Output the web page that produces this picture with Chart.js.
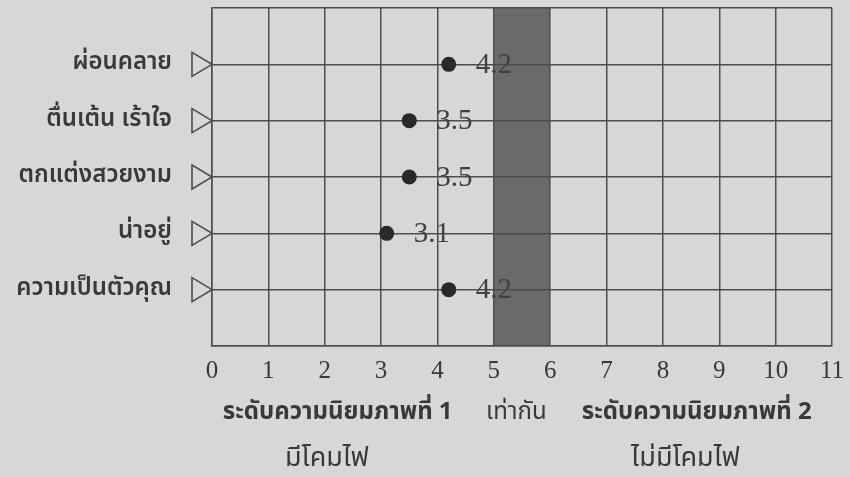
<!DOCTYPE html>
<html>
<head>
<meta charset="utf-8">
<script src="https://cdn.jsdelivr.net/npm/chart.js@4/dist/chart.umd.min.js"></script>
<style>
  html, body { margin: 0; padding: 0; background: #d9d7d6; }
  #wrap { width: 850px; height: 477px; }
</style>
</head>
<body>
<div id="wrap"><canvas id="c" width="850" height="477"></canvas></div>
<script>
// ---- data ----
const categories = ['ผ่อนคลาย', 'ตื่นเต้น เร้าใจ', 'ตกแต่งสวยงาม', 'น่าอยู่', 'ความเป็นตัวคุณ'];
const scores = [4.2, 3.5, 3.5, 3.1, 4.2];
const xTickValues = [0, 1, 2, 3, 4, 5, 6, 7, 8, 9, 10, 11];
const equalBand = [5, 6];
const groupTitles = ['ระดับความนิยมภาพที่ 1', 'เท่ากัน', 'ระดับความนิยมภาพที่ 2'];
const groupSubtitles = ['มีโคมไฟ', '', 'ไม่มีโคมไฟ'];

const THAI = '"Noto Sans Thai", "Noto Sans Thai UI", "Loma", "Garuda", "DejaVu Sans", "Noto Sans", sans-serif';
const SERIF = '"Liberation Serif", "DejaVu Serif", serif';
const GRID = '#4f4d4c';

const points = scores.map((v, i) => ({ x: v, y: i + 1 }));

const decor = {
  id: 'decor',
  beforeDraw(chart) {
    const { ctx, chartArea: a, scales: { x } } = chart;
    ctx.save();
    ctx.fillStyle = '#d9d7d6';
    ctx.fillRect(0, 0, chart.width, chart.height);
    // band "equal"
    const x0 = x.getPixelForValue(equalBand[0]);
    const x1 = x.getPixelForValue(equalBand[1]);
    ctx.fillStyle = '#6b6969';
    ctx.fillRect(x0, a.top, x1 - x0, a.bottom - a.top);
    ctx.restore();
  },
  afterDatasetsDraw(chart) {
    const { ctx, chartArea: a, scales: { x, y } } = chart;
    ctx.save();
    // triangles on the left axis
    ctx.strokeStyle = GRID;
    ctx.lineWidth = 1.6;
    categories.forEach((c, i) => {
      const py = y.getPixelForValue(i + 1);
      const tip = a.left;
      ctx.beginPath();
      ctx.moveTo(tip - 20, py - 12);
      ctx.lineTo(tip, py);
      ctx.lineTo(tip - 20, py + 12);
      ctx.closePath();
      ctx.stroke();
    });
    // value labels
    ctx.fillStyle = '#424140';
    ctx.font = '29px ' + SERIF;
    ctx.textAlign = 'left';
    ctx.textBaseline = 'middle';
    scores.forEach((v, i) => {
      ctx.fillText(v.toFixed(1), x.getPixelForValue(v) + 27, y.getPixelForValue(i + 1) + 1);
    });
    // group titles under the axis
    const centers = [2.23, 5.4, 8.6];
    const subCenters = [2.04, 5.4, 8.4];
    ctx.textAlign = 'center';
    ctx.fillStyle = '#3a3938';
    groupTitles.forEach((t, i) => {
      ctx.font = (i === 1 ? '' : 'bold ') + '24px ' + THAI;
      ctx.fillText(t, x.getPixelForValue(centers[i]), 414);
    });
    ctx.font = '27px ' + THAI;
    groupSubtitles.forEach((t, i) => {
      if (t) ctx.fillText(t, x.getPixelForValue(subCenters[i]), 461);
    });
    ctx.restore();
  }
};

new Chart(document.getElementById('c'), {
  type: 'scatter',
  data: {
    datasets: [{
      data: points,
      pointRadius: 7.5,
      pointHoverRadius: 7.5,
      backgroundColor: '#2a2928',
      borderWidth: 0
    }]
  },
  options: {
    responsive: false,
    animation: false,
    layout: { padding: { top: 8, right: 18, left: 0, bottom: 0 } },
    plugins: { legend: { display: false }, tooltip: { enabled: false } },
    scales: {
      x: {
        type: 'linear', min: 0, max: 11,
        afterBuildTicks(s) { s.ticks = xTickValues.map(v => ({ value: v })); },
        afterFit(s) { s.height = 131; s.paddingLeft = 0; s.paddingRight = 0; },
        grid: { color: GRID, lineWidth: 1.5, drawTicks: false },
        border: { color: GRID, width: 1.5 },
        ticks: { color: '#3a3938', font: { family: SERIF, size: 25 }, padding: 10, maxRotation: 0, autoSkip: false }
      },
      y: {
        type: 'linear', min: 0, max: 6, reverse: true,
        afterBuildTicks(s) { s.ticks = [0, 1, 2, 3, 4, 5, 6].map(v => ({ value: v })); },
        afterFit(s) { s.width = 212; s.paddingTop = 0; s.paddingBottom = 0; },
        grid: { color: GRID, lineWidth: 1.5, drawTicks: false },
        border: { color: GRID, width: 1.5 },
        ticks: {
          color: '#3a3938', padding: 40,
          font: { family: THAI, size: 24, weight: '600' },
          callback: (v) => categories[v - 1] || ''
        }
      }
    }
  },
  plugins: [decor]
});
</script>
</body>
</html>
